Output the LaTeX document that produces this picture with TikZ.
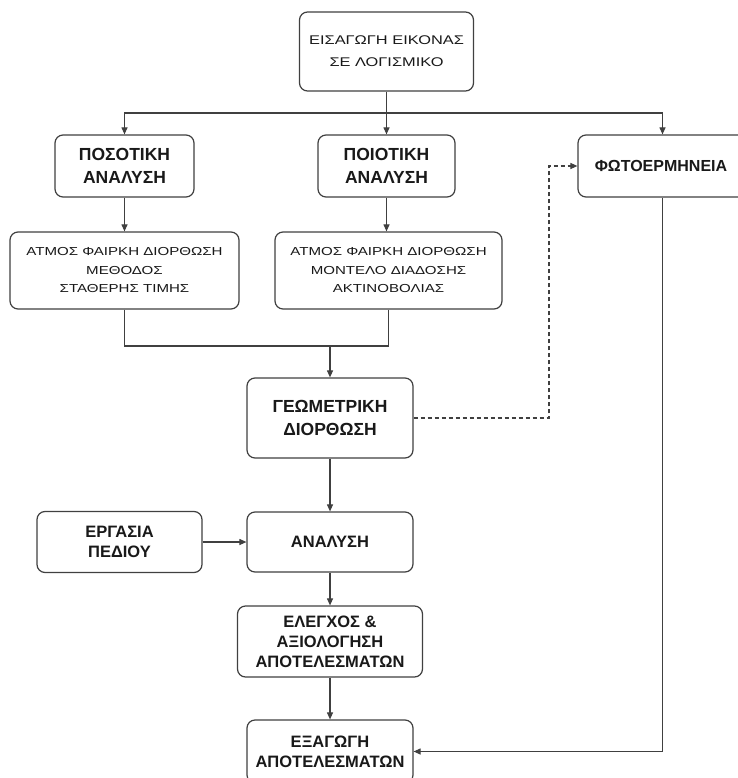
\documentclass[tikz,border=0pt]{standalone}
\usepackage{fontspec}
\setmainfont{Liberation Sans}
\newfontfamily\regf[FakeStretch=1.3]{Liberation Sans}
\usetikzlibrary{arrows.meta}
\begin{document}
\begin{tikzpicture}[x=1pt,y=-1pt,
  box/.style={draw=black!75, line width=1.2pt, rounded corners=8pt, align=center, inner sep=0pt, fill=white, text=black!90},
  arr/.style={-{Triangle[length=7pt,width=6pt]}},
  conn/.style={draw=black!75, line width=1.1pt},
  dashconn/.style={conn, dash pattern=on 4pt off 3pt},
  bigbold/.style={font=\fontsize{17.5}{23}\selectfont\bfseries},
  midbold/.style={font=\fontsize{16.5}{20}\selectfont\bfseries},
  fotobold/.style={font=\fontsize{16}{19}\selectfont\bfseries},
  topreg/.style={font=\regf\fontsize{12.6}{22}\selectfont},
  atmreg/.style={font=\regf\fontsize{11.6}{18.5}\selectfont}
]
\useasboundingbox (0,0) rectangle (737,778);

% nodes
\node[box, topreg, minimum width=174pt, minimum height=79pt] (top) at (386.5,51.5) {ΕΙΣΑΓΩΓΗ ΕΙΚΟΝΑΣ\\ΣΕ ΛΟΓΙΣΜΙΚΟ};
\node[box, bigbold, minimum width=139pt, minimum height=62pt] (pos) at (124.5,166) {ΠΟΣΟΤΙΚΗ\\ΑΝΑΛΥΣΗ};
\node[box, bigbold, minimum width=137pt, minimum height=62pt] (poi) at (386.5,166) {ΠΟΙΟΤΙΚΗ\\ΑΝΑΛΥΣΗ};
\node[box, minimum width=169pt, minimum height=62pt] (foto) at (662.5,166) {};
\node[fotobold, text=black!90] (fotot) at (661,166) {ΦΩΤΟΕΡΜΗΝΕΙΑ};
\node[box, atmreg, minimum width=229pt, minimum height=77pt] (atm1) at (124.5,270.5) {ΑΤΜΟΣ ΦΑΙΡΚΗ ΔΙΟΡΘΩΣΗ\\ΜΕΘΟΔΟΣ\\ΣΤΑΘΕΡΗΣ ΤΙΜΗΣ};
\node[box, atmreg, minimum width=227pt, minimum height=77pt] (atm2) at (388.5,270.5) {ΑΤΜΟΣ ΦΑΙΡΚΗ ΔΙΟΡΘΩΣΗ\\ΜΟΝΤΕΛΟ ΔΙΑΔΟΣΗΣ\\ΑΚΤΙΝΟΒΟΛΙΑΣ};
\node[box, bigbold, minimum width=166pt, minimum height=80pt] (geo) at (330,418) {ΓΕΩΜΕΤΡΙΚΗ\\ΔΙΟΡΘΩΣΗ};
\node[box, midbold, minimum width=165pt, minimum height=61pt] (erg) at (119.5,542) {ΕΡΓΑΣΙΑ\\ΠΕΔΙΟΥ};
\node[box, midbold, minimum width=166pt, minimum height=60pt] (ana) at (330,542) {ΑΝΑΛΥΣΗ};
\node[box, midbold, minimum width=185pt, minimum height=71pt] (ele) at (330,641.5) {ΕΛΕΓΧΟΣ \&\\ΑΞΙΟΛΟΓΗΣΗ\\ΑΠΟΤΕΛΕΣΜΑΤΩΝ};
\node[box, midbold, minimum width=166pt, minimum height=63pt] (exa) at (330,751.5) {ΕΞΑΓΩΓΗ\\ΑΠΟΤΕΛΕΣΜΑΤΩΝ};

% helper coordinates
\coordinate (hub) at (386.5,113);
\coordinate (join) at (330,346);
\coordinate (dk) at (549,300);

% connectors
\draw[conn] (top.south) -- (hub);
\draw[conn, arr] (hub) -| (pos.north);
\draw[conn, arr] (hub) -- (poi.north);
\draw[conn, arr] (hub) -| (foto.north);
\draw[conn, arr] (pos.south) -- (atm1.north);
\draw[conn, arr] (poi.south) -- (poi.south |- atm2.north);
\draw[conn] (atm1.south) |- (join);
\draw[conn] (atm2.south) |- (join);
\draw[conn, arr] (join) -- (geo.north);
\draw[dashconn, arr] (geo.east) -| (dk) |- (foto.west);
\draw[conn, arr] (geo.south) -- (ana.north);
\draw[conn, arr] (erg.east) -- (ana.west);
\draw[conn, arr] (ana.south) -- (ele.north);
\draw[conn, arr] (ele.south) -- (exa.north);
\draw[conn, arr] (foto.south) |- (exa.east);
\end{tikzpicture}
\end{document}
